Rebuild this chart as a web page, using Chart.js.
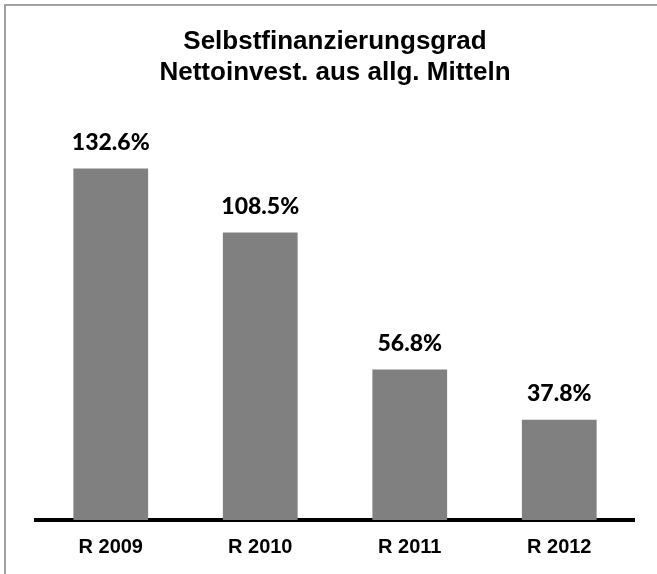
<!DOCTYPE html>
<html>
<head>
<meta charset="utf-8">
<script src="https://cdn.jsdelivr.net/npm/chart.js@4"></script>
<style>
  html, body { margin: 0; padding: 0; background: #fff; }
  #wrap { position: relative; width: 657px; height: 574px; }
  #frame {
    position: absolute; left: 4px; top: 4px; right: 0; bottom: 0;
    border-top: 2px solid #a0a0a0; border-left: 2px solid #a0a0a0;
    pointer-events: none;
  }
</style>
</head>
<body>
<div id="wrap">
  <canvas id="chart" width="657" height="574"></canvas>
  <div id="frame"></div>
</div>
<script>
// data
const categories = ['R 2009', 'R 2010', 'R 2011', 'R 2012'];
const values = [132.6, 108.5, 56.8, 37.8];
const titleLines = ['Selbstfinanzierungsgrad', 'Nettoinvest. aus allg. Mitteln'];

// value labels above the bars
const barLabels = {
  id: 'barLabels',
  afterDatasetsDraw(chart) {
    const ctx = chart.ctx;
    const meta = chart.getDatasetMeta(0);
    ctx.save();
    ctx.font = '900 23px Lato';
    ctx.fillStyle = '#000';
    ctx.textAlign = 'center';
    ctx.textBaseline = 'middle';
    meta.data.forEach((bar, i) => {
      ctx.fillText(values[i].toFixed(1) + '%', bar.x, bar.y - 26);
    });
    ctx.restore();
  }
};

new Chart(document.getElementById('chart'), {
  type: 'bar',
  data: {
    labels: categories,
    datasets: [{
      data: values,
      backgroundColor: '#808080',
      borderWidth: 0,
      barPercentage: 1,
      categoryPercentage: 0.5
    }]
  },
  options: {
    responsive: false,
    animation: false,
    layout: { padding: { top: 6, left: 36, right: 23, bottom: 0 } },
    plugins: {
      legend: { display: false },
      tooltip: { enabled: false },
      title: {
        display: true,
        text: titleLines,
        color: '#000',
        font: { family: "'Liberation Sans', Arial, sans-serif", size: 26, weight: 'bold', lineHeight: 1.19 },
        padding: { top: 20.5, bottom: 34 }
      }
    },
    scales: {
      x: {
        z: 1,
        grid: { display: false, drawTicks: false },
        border: { display: true, color: '#000', width: 4 },
        ticks: {
          color: '#000',
          padding: 17,
          font: { family: "'Liberation Sans', Arial, sans-serif", size: 20, weight: 'bold', lineHeight: 1 }
        }
      },
      y: {
        display: false,
        min: 0,
        max: 150
      }
    }
  },
  plugins: [barLabels]
});
</script>
</body>
</html>
